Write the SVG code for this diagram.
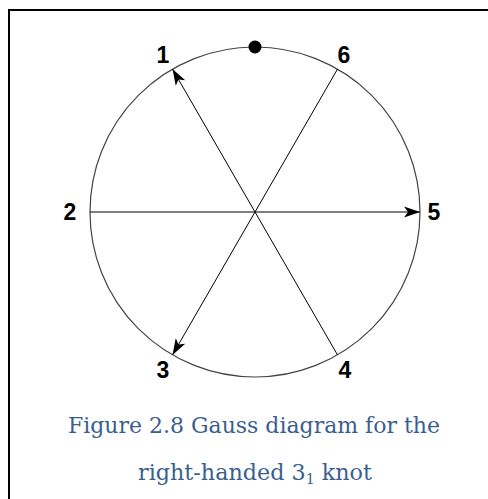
<svg xmlns="http://www.w3.org/2000/svg" width="488" height="499" viewBox="0 0 488 499">
<defs>
<style>
.lbl{font-family:"Liberation Sans",Arial,sans-serif;font-weight:bold;font-size:23px;fill:#000;text-anchor:middle}
.chord{stroke:#000;stroke-width:1;fill:none}
.cap{font-family:"DejaVu Serif","Liberation Serif",serif;font-size:22px;fill:#3A5F8F;text-anchor:middle}
</style>
<marker id="arr" viewBox="-17 -6 18 12" refX="0" refY="0" markerWidth="18" markerHeight="12" markerUnits="userSpaceOnUse" orient="auto">
<path d="M0,0 L-16,-5.5 L-12,0 L-16,5.5 Z" fill="#000"/>
</marker>
</defs>
<rect width="488" height="499" fill="#fff"/>
<path d="M9,499 V10 H488" fill="none" stroke="#000" stroke-width="2"/>
<g id="circle">
<circle cx="255" cy="212" r="165" fill="none" stroke="#444" stroke-width="1.2"/>
<circle cx="255" cy="47" r="6.5" fill="#000"/>
</g>
<g id="connectors">
<line class="chord" x1="337.5" y1="354.9" x2="172.5" y2="69.1" marker-end="url(#arr)"/>
<line class="chord" x1="337.5" y1="69.1" x2="172.5" y2="354.9" marker-end="url(#arr)"/>
<line class="chord" x1="90" y1="212" x2="420" y2="212" marker-end="url(#arr)"/>
</g>
<g id="n1"><text class="lbl" x="163" y="63">1</text></g>
<g id="n6"><text class="lbl" x="344" y="63">6</text></g>
<g id="n2"><text class="lbl" x="70" y="220">2</text></g>
<g id="n5"><text class="lbl" x="434" y="220">5</text></g>
<g id="n3"><text class="lbl" x="163" y="378">3</text></g>
<g id="n4"><text class="lbl" x="345" y="378">4</text></g>
<g id="caption">
<text class="cap" x="254" y="433" textLength="372" lengthAdjust="spacingAndGlyphs">Figure 2.8 Gauss diagram for the</text>
<text class="cap" x="255" y="480" textLength="234" lengthAdjust="spacingAndGlyphs">right-handed 3<tspan font-size="14" dy="4">1</tspan><tspan dy="-4"> knot</tspan></text>
</g>
</svg>
